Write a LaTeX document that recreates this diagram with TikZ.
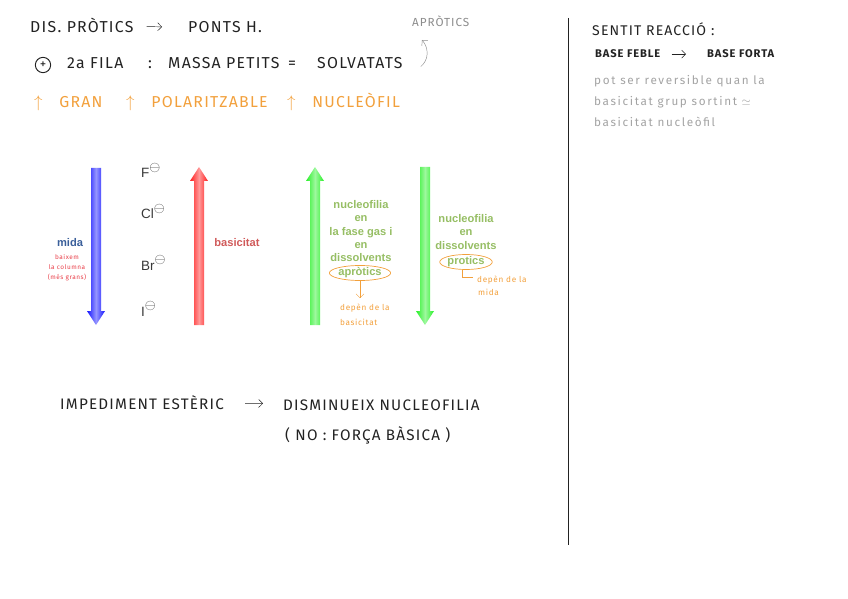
\documentclass[tikz,border=0pt]{standalone}
\usepackage{fontspec}
\setmainfont{Liberation Sans}
\newfontfamily\handfont[LetterSpace=8]{Fira Sans}
\newfontfamily\handwide[LetterSpace=14]{Fira Sans}
\usetikzlibrary{arrows.meta,positioning,shapes.geometric}
\definecolor{ink}{HTML}{222222}
\definecolor{pencil}{HTML}{8C8C8C}
\definecolor{hlorange}{HTML}{F2A03C}
\definecolor{hlred}{HTML}{E8404A}
\definecolor{midablue}{HTML}{3A5F9A}
\definecolor{basired}{HTML}{D05A5A}
\definecolor{nucgreen}{HTML}{96BE64}
\definecolor{arrblue}{HTML}{1414FF}
\definecolor{arrred}{HTML}{FF1E1E}
\definecolor{arrgreen}{HTML}{28F028}
\newcommand{\negion}{\raisebox{0.5em}{\fontsize{12}{12}\selectfont$\ominus$}}

\begin{document}
\begin{tikzpicture}[x=0.3mm, y=-0.3mm,
  hand/.style={font=\handfont\fontsize{13.5}{16}\selectfont, text=ink, inner sep=0pt, anchor=base west},
  small/.style={hand, font=\handfont\fontsize{13}{15}\selectfont},
  note/.style={hand, font=\handwide\fontsize{10}{12}\selectfont, text=pencil!80},
  tiny/.style={hand, font=\handfont\fontsize{7}{8}\selectfont, text=hlorange},
  prt/.style={font=\bfseries\fontsize{9.5}{11.4}\selectfont, inner sep=0pt, align=center},
  ion/.style={font=\fontsize{11.5}{13}\selectfont, text=ink!90, inner sep=0pt, anchor=base west},
  oval/.style={prt, ellipse, draw=hlorange, semithick, text=nucgreen, minimum height=4.5mm},
  harr/.style={-{Straight Barb[length=1.2mm]}, thin}]
\useasboundingbox (0,0) rectangle (848,599);
% left column, handwritten header
\node[hand] (dis) at (30,33) {DIS. PRÒTICS};
\node[hand] (pont) at (188,33) {PONTS H.};
\draw[harr, ink, shorten <=3.9mm, shorten >=7.8mm] (dis) -- (pont);
\node[hand, circle, draw=ink, thick, anchor=center, inner sep=0pt, minimum size=4.6mm, font=\handfont\fontsize{11}{11}\selectfont] (plus) at (43,65) {+};
\node[hand] (fila) at (67,69) {2a FILA};
\node[hand] (colon) at (148,69) {:};
\node[hand] (massa) at (168,69) {MASSA PETITS};
\node[hand] (eq) at (288,69) {=};
\node[hand] (solv) at (317,69) {SOLVATATS};
\node[hand, font=\handfont\fontsize{10}{12}\selectfont, text=pencil] (aprot) at (412,27) {APRÒTICS};
\coordinate (curl) at (422,40);
\draw[harr, pencil] ([xshift=5.4mm,yshift=-0.9mm]solv.east) .. controls (429,60) and (429,48) .. (curl);
\node[hand, text=hlorange] (gran) at (34,108) {$\uparrow$\hspace{5mm}GRAN};
\node[hand, text=hlorange] (pola) at (126,108) {$\uparrow$\hspace{5mm}POLARITZABLE};
\node[hand, text=hlorange] (nucf) at (287,108) {$\uparrow$\hspace{5mm}NUCLEÒFIL};
% fat arrows
\foreach \x/\t/\b/\h/\c in {96/168/311/325/arrblue, 199/325/181/167/arrred, 315/325/181/167/arrgreen, 425/167/311/325/arrgreen}
  \shade[left color=\c, right color=\c, middle color=\c!45!white] (\x-5,\t) -- (\x+5,\t) -- (\x+5,\b) -- (\x+9,\b) -- (\x,\h) -- (\x-9,\b) -- (\x-5,\b) -- cycle;
\node[prt, text=midablue] (mida) at (70,243) {mida};
\node[tiny, text=hlred, anchor=center, align=center, font=\handfont\fontsize{5.5}{8.5}\selectfont] (baix) at (67,268) {baixem\\la columna\\(més grans)};
\node[ion] (f) at (141,178) {F\negion};
\node[ion] (cl) at (141,219) {Cl\negion};
\node[ion] (br) at (141,270) {Br\negion};
\node[ion] (i) at (141,316) {I\negion};
\node[prt, text=basired] (basi) at (237,243) {basicitat};
\node[prt, text=nucgreen, anchor=north] (nucA) at (361,200) {nucleofilia\\en\\la fase gas i\\en\\dissolvents};
\node[oval, minimum width=15.6mm] (apro) at (360,273) {apròtics};
\node[tiny] (depA) at (340,310) {depèn de la};
\node[tiny] (depB) at (340,325) {basicitat};
\draw[harr, hlorange] (apro.south) -- ([yshift=1.5mm]apro.south |- depA.north);
\node[prt, text=nucgreen, anchor=north] (nucB) at (466,214) {nucleofilia\\en\\dissolvents};
\node[oval, minimum width=13.8mm] (prot) at (466,262) {protics};
\node[tiny] (depC) at (477,282) {depèn de la};
\node[tiny] (depD) at (478,295) {mida};
\draw[hlorange, thin] ([xshift=-1.2mm]prot.south) |- ([xshift=-1.2mm,yshift=0.8mm]depC.west);
% bottom
\node[small] (imp) at (60,409) {IMPEDIMENT ESTÈRIC};
\node[small] (dism) at (283,410) {DISMINUEIX NUCLEOFILIA};
\draw[harr, ink, shorten <=6.3mm, shorten >=6mm] (imp) -- (dism);
\node[small] (noforca) at (285,440) {( NO : FORÇA BÀSICA )};
% divider and right column
\draw[ink, thin] (568,18) -- (568,545);
\node[small, font=\handfont\fontsize{12}{14}\selectfont] (sent) at (592,36) {SENTIT REACCIÓ :};
\node[small, font=\handfont\bfseries\fontsize{9.5}{11}\selectfont] (feble) at (595,58) {BASE FEBLE};
\node[small, font=\handfont\bfseries\fontsize{9.5}{11}\selectfont] (forta) at (707,58) {BASE FORTA};
\draw[harr, ink, shorten <=3.3mm, shorten >=6.3mm] (feble) -- (forta);
\node[note] (pot) at (594,85) {pot ser reversible quan la};
\node[note] (grup) at (594,106) {basicitat grup sortint $\simeq$};
\node[note] (bnuc) at (594,127) {basicitat nucleòfil};
\end{tikzpicture}
\end{document}
